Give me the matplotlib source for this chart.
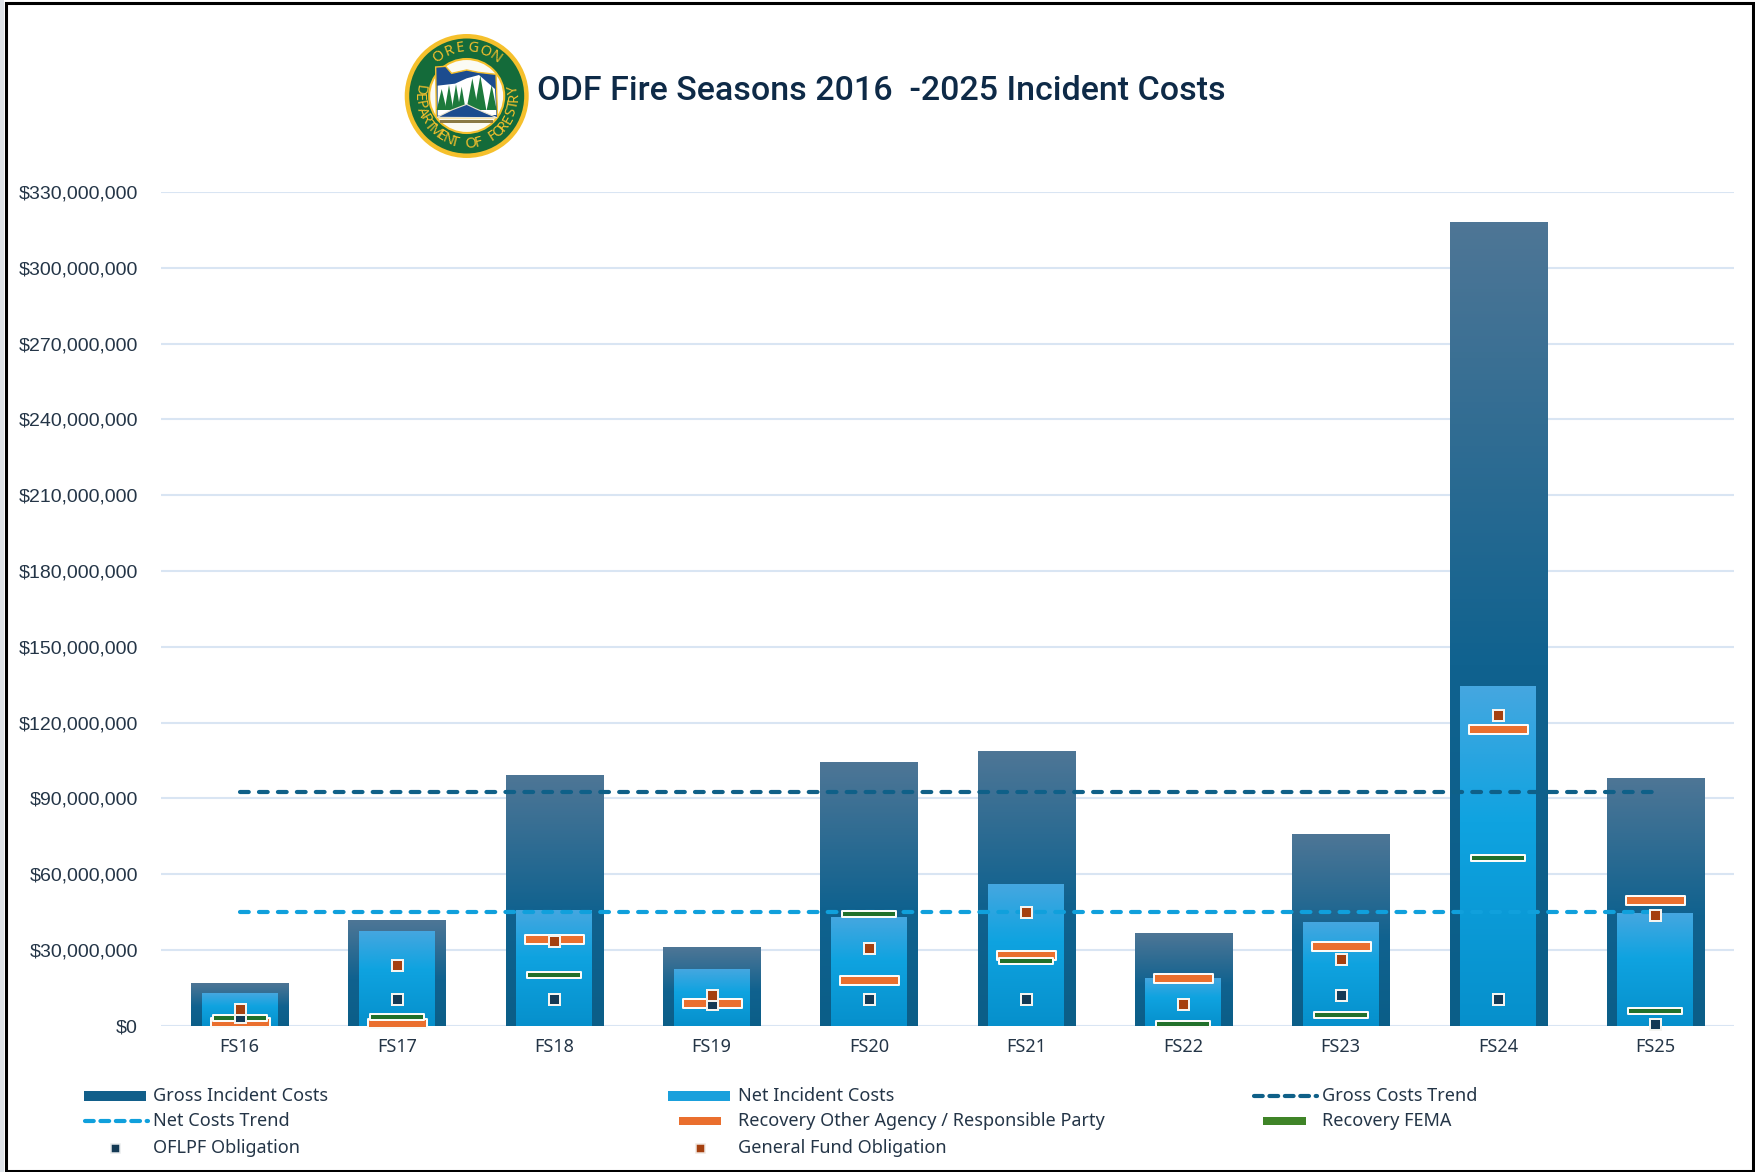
import numpy as np
import matplotlib
matplotlib.use("Agg")
import matplotlib.pyplot as plt
from matplotlib.colors import LinearSegmentedColormap
from matplotlib.path import Path
from matplotlib.patches import Circle, Ellipse, Polygon, Rectangle
from matplotlib.lines import Line2D

# values in millions of dollars
years = ["FS16", "FS17", "FS18", "FS19", "FS20", "FS21", "FS22", "FS23", "FS24", "FS25"]
gross = [16.8, 41.7, 99.3, 31.0, 104.4, 108.8, 36.8, 75.9, 318.0, 98.0]
net = [13.0, 37.4, 45.8, 22.4, 43.1, 55.9, 18.9, 40.9, 134.3, 44.6]
gross_trend = [92.7, 92.7, 92.7, 92.7, 92.7, 92.7, 92.7, 92.7, 92.7, 92.7]
net_trend = [45.0, 45.0, 45.0, 45.0, 45.0, 45.0, 45.0, 45.0, 45.0, 45.0]
recovery_other = [1.6, 1.0, 34.5, 8.9, 18.2, 28.0, 19.0, 31.6, 117.3, 49.6]
recovery_fema = [2.9, 3.6, 19.9, np.nan, 44.3, 25.7, 0.7, 4.2, 66.3, 5.7]
oflpf = [3.5, 10.7, 10.7, 8.6, 10.7, 10.7, np.nan, 12.1, 10.7, 0.7]
general_fund = [6.5, 24.1, 33.5, 12.1, 30.6, 45.0, 8.5, 26.4, 122.8, 44.0]
y_ticks = [0, 30, 60, 90, 120, 150, 180, 210, 240, 270, 300, 330]

W, H = 1755, 1172
PX = 0.72  # points per pixel at dpi 100

GROSS_C = "#0f6088"
NET_C = "#10a0dc"
ORANGE = "#ea6f2e"
GREEN = "#21702a"
NAVY = "#143a55"
BROWN = "#a5400f"
TEXT_C = "#243547"
GRID_C = "#d9e5f3"
LOGO_GREEN = "#146b3a"
LOGO_GOLD = "#f5c02c"
LOGO_BLUE = "#1c4c8f"

fig = plt.figure(figsize=(W / 100, H / 100), dpi=100, facecolor="white")
ax = fig.add_axes([161 / W, 1 - 1025.7 / H, (1734 - 161) / W, (1025.7 - 192) / H])

x = np.arange(len(years))
gross_cmap = LinearSegmentedColormap.from_list("gross", [(0, "#4e7696"), (0.55, "#10628f"), (1, "#0b5e88")])
net_cmap = LinearSegmentedColormap.from_list("net", [(0, "#45a7e0"), (0.4, "#0fa3e0"), (1, "#0690cc")])
ramp = np.linspace(0, 1, 256).reshape(-1, 1)


def gradient_bars(values, width, cmap, z):
    bars = ax.bar(x, np.array(values) * 1e6, width=width, color="none", zorder=z)
    for b in bars:
        ax.imshow(ramp, cmap=cmap, aspect="auto", zorder=z, interpolation="bilinear",
                  extent=(b.get_x(), b.get_x() + b.get_width(), 0, b.get_height()))


gradient_bars(gross, 0.617, gross_cmap, 2)
gradient_bars(net, 0.483, net_cmap, 3)

ax.plot(x, np.array(gross_trend) * 1e6, color=GROSS_C, lw=3, dashes=(2.1, 2.45),
        dash_capstyle="round", zorder=4)
ax.plot(x, np.array(net_trend) * 1e6, color=NET_C, lw=3, dashes=(2.1, 2.45),
        dash_capstyle="round", zorder=4)


def bar_marker(half_h):
    return Path([(-1, -half_h), (1, -half_h), (1, half_h), (-1, half_h), (-1, -half_h)], closed=True)


ORANGE_M = bar_marker(9 / 59)
GREEN_M = bar_marker(7 / 54)
ax.plot(x, np.array(recovery_other) * 1e6, ls="none", marker=ORANGE_M, ms=59 * PX, mfc=ORANGE,
        mec="#fbfbf8", mew=2 * PX, zorder=5, clip_on=False)
ax.plot(x, np.array(recovery_fema) * 1e6, ls="none", marker=GREEN_M, ms=54 * PX, mfc=GREEN,
        mec="#fbfbf8", mew=2 * PX, zorder=6, clip_on=False)
ax.plot(x, np.array(oflpf) * 1e6, ls="none", marker="s", ms=11 * PX, mfc=NAVY,
        mec="#f4f4f0", mew=2 * PX, zorder=7, clip_on=False)
ax.plot(x, np.array(general_fund) * 1e6, ls="none", marker="s", ms=11 * PX, mfc=BROWN,
        mec="#f4f4f0", mew=2 * PX, zorder=8, clip_on=False)

ax.set_xlim(-0.5, len(years) - 0.5)
ax.set_ylim(0, 330e6)
ax.set_xticks(x)
ax.set_xticklabels(years, fontsize=13, family="Noto Sans", color=TEXT_C)
ax.set_yticks(np.array(y_ticks) * 1e6)
ax.set_yticklabels([f"${v * 1000000:,}" for v in y_ticks], fontsize=14, family="Liberation Sans", color=TEXT_C)
ax.tick_params(axis="y", length=0, pad=16.5)
ax.tick_params(axis="x", length=0, pad=9)
ax.grid(axis="y", color=GRID_C, lw=1.5, zorder=0)
ax.set_axisbelow(True)
for s in ax.spines.values():
    s.set_visible(False)

# overlay in pixel coordinates for frame, title, logo and legend
ov = fig.add_axes([0, 0, 1, 1], facecolor="none")
ov.set_xlim(0, W)
ov.set_ylim(H, 0)
ov.axis("off")

# frame
ov.add_patch(Rectangle((0, 0), 4.5, H, fc="#dfe3e8", ec="none"))
ov.add_patch(Rectangle((6, 3), W - 8, H - 4, fc="none", ec="black", lw=2.2))

# title
ov.text(537, 91, "ODF Fire Seasons 2016  -2025 Incident Costs", fontsize=24.5, family="Roboto",
        weight="medium", color="#0e2a47", ha="left", va="center")

# logo
cx, cy = 466.7, 96
ov.add_patch(Circle((cx, cy), 62, fc=LOGO_GOLD, ec="none"))
ov.add_patch(Circle((cx, cy), 57.5, fc=LOGO_GREEN, ec="none"))


def zpts(pts):
    # coordinates taken from the logo crop, 3x around (395, 25)
    return [(395 + px / 3, 25 + py / 3) for px, py in pts]


ov.add_patch(Ellipse((cx, cy), 75, 74, fc="#fbfbf4", ec=LOGO_GOLD, lw=1.5))
ov.add_patch(Polygon(zpts([(122, 126), (152, 124), (170, 145), (215, 135), (250, 142), (303, 148),
                           (308, 278), (124, 278)]), fc=LOGO_BLUE, ec=LOGO_GOLD, lw=1))
ov.add_patch(Polygon(zpts([(128, 182), (180, 176), (215, 160), (252, 150), (300, 192), (304, 270),
                           (128, 272)]), fc="white", ec="none"))
for tx, top, half in [(140, 192, 15), (162, 180, 13), (183, 178, 13), (200, 185, 12),
                      (232, 160, 18), (256, 152, 18), (290, 180, 15)]:
    ov.add_patch(Polygon(zpts([(tx, top), (tx + half, 255), (tx - half, 255)]), fc="#1d7a3c", ec="none"))
ov.add_patch(Polygon(zpts([(126, 277), (170, 255), (215, 238), (240, 250), (270, 263), (306, 278)]),
                     fc=LOGO_BLUE, ec="#e9e4d0", lw=0.8))
ov.add_patch(Rectangle((395 + 135 / 3, 25 + 285 / 3), 160 / 3, 3, fc="#8a7a45", ec="none"))


def ring_text(s, start, stop, r, flip):
    angles = np.linspace(start, stop, len(s))
    for ch, a in zip(s, angles):
        t = np.deg2rad(a)
        rot = a - 90 if flip else a + 90
        ov.text(cx + r * np.cos(t), cy - r * np.sin(t), ch, fontsize=10.5, family="Noto Sans", weight="bold",
                color=LOGO_GOLD, rotation=rot, rotation_mode="anchor", ha="center", va="center")


ring_text("OREGON", 126, 54, 48, True)
ring_text("DEPARTMENT OF FORESTRY", 172, 368, 48, False)

# legend, three fixed columns
LEG_FONT = dict(fontsize=13, family="Noto Sans", color=TEXT_C, va="center", ha="left")
ROWS = [1096, 1121, 1148]
ov.add_patch(Rectangle((84, ROWS[0] - 5), 62, 10, fc="#125f8a", ec="none"))
ov.add_patch(Rectangle((668, ROWS[0] - 5), 62, 10, fc="#1aa0dc", ec="none"))
ov.add_line(Line2D([1254, 1317], [ROWS[0], ROWS[0]], color=GROSS_C, lw=3, dashes=(2.1, 1.6), dash_capstyle="round"))
ov.add_line(Line2D([85, 148], [ROWS[1], ROWS[1]], color=NET_C, lw=3, dashes=(2.1, 1.6), dash_capstyle="round"))
ov.add_patch(Rectangle((679, ROWS[1] - 4), 42, 8, fc=ORANGE, ec="none"))
ov.add_patch(Rectangle((1263, ROWS[1] - 4), 43, 8, fc="#3f8428", ec="none"))
ov.add_line(Line2D([115], [ROWS[2]], ls="none", marker="s", ms=9 * PX, mfc=NAVY, mec="#e8eaec", mew=1.5 * PX))
ov.add_line(Line2D([700], [ROWS[2]], ls="none", marker="s", ms=9 * PX, mfc=BROWN, mec="#f0e6e0", mew=1.5 * PX))
ov.text(153, ROWS[0], "Gross Incident Costs", **LEG_FONT)
ov.text(738, ROWS[0], "Net Incident Costs", **LEG_FONT)
ov.text(1322, ROWS[0], "Gross Costs Trend", **LEG_FONT)
ov.text(153, ROWS[1], "Net Costs Trend", **LEG_FONT)
ov.text(738, ROWS[1], "Recovery Other Agency / Responsible Party", **LEG_FONT)
ov.text(1322, ROWS[1], "Recovery FEMA", **LEG_FONT)
ov.text(153, ROWS[2], "OFLPF Obligation", **LEG_FONT)
ov.text(738, ROWS[2], "General Fund Obligation", **LEG_FONT)

fig.savefig("out.png", dpi=100)
